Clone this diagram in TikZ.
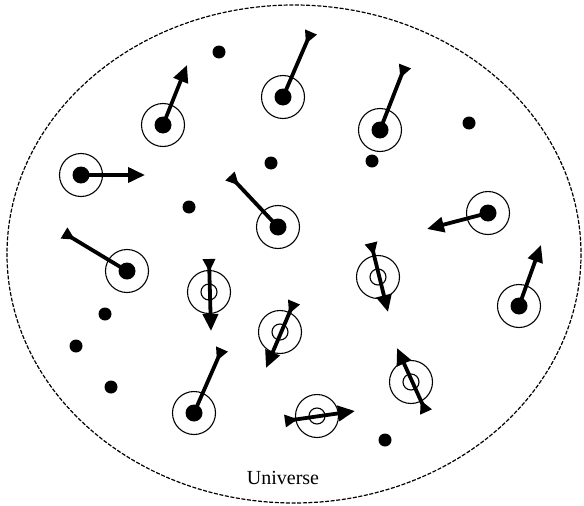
\documentclass[tikz,border=0pt]{standalone}
\usepackage{fontspec}
\setmainfont{Liberation Serif}
\usepackage{tikz}
\usetikzlibrary{arrows.meta}

\begin{document}
\begin{tikzpicture}[x=1pt,y=-1pt,
ring/.style={circle,draw,line width=1.1pt,minimum size=43pt,inner sep=0pt},
core/.style={circle,fill,minimum size=17pt,inner sep=0pt},
hole/.style={circle,draw,line width=1.1pt,minimum size=16pt,inner sep=0pt},
speck/.style={circle,fill,minimum size=13pt,inner sep=0pt},
spinout/.style={line width=3.8pt,-{Triangle[length=17pt,width=15pt]}},
spinin/.style={line width=3.8pt,{Triangle[reversed,length=13pt,width=12pt]}-},
spinflip/.style={line width=3.8pt,{Triangle[reversed,length=13pt,width=12pt]}-{Triangle[length=17pt,width=15pt]}}
]
\useasboundingbox (0,0) rectangle (584,506);
\draw[line width=1.2pt,dash pattern=on 4pt off 1.6pt] (294,254) ellipse [x radius=287,y radius=249];
% particles with a filled core
\node[ring] (a1) at (163,125) {}; \node[core] at (a1) {};
\node[ring] (a2) at (283,97) {}; \node[core] at (a2) {};
\node[ring] (a3) at (380,130) {}; \node[core] at (a3) {};
\node[ring] (a4) at (81,175) {}; \node[core] at (a4) {};
\node[ring] (a5) at (278,227) {}; \node[core] at (a5) {};
\node[ring] (a6) at (488,213) {}; \node[core] at (a6) {};
\node[ring] (a7) at (127,271) {}; \node[core] at (a7) {};
\node[ring] (a8) at (519,306) {}; \node[core] at (a8) {};
\node[ring] (a9) at (194,413) {}; \node[core] at (a9) {};
% particles with a hollow core
\node[ring] (b1) at (209,292) {}; \node[hole] at (b1) {};
\node[ring] (b2) at (378,277) {}; \node[hole] at (b2) {};
\node[ring] (b3) at (280,332) {}; \node[hole] at (b3) {};
\node[ring] (b4) at (317,416) {}; \node[hole] at (b4) {};
\node[ring] (b5) at (411,382) {}; \node[hole] at (b5) {};
% free dots
\node[speck] (d1) at (219,52) {};
\node[speck] (d2) at (469,123) {};
\node[speck] (d3) at (271,163) {};
\node[speck] (d4) at (372,161) {};
\node[speck] (d5) at (189,207) {};
\node[speck] (d6) at (105,314) {};
\node[speck] (d7) at (76,346) {};
\node[speck] (d8) at (111,387) {};
\node[speck] (d9) at (385,440) {};
% arrow ends
\coordinate (a1e) at (187,65);
\coordinate (a2e) at (311,32);
\coordinate (a3e) at (405,66);
\coordinate (a4e) at (145,175);
\coordinate (a5e) at (230,176);
\coordinate (a6e) at (427,229);
\coordinate (a7e) at (64,233);
\coordinate (a8e) at (541,245);
\coordinate (a9e) at (222,349);
\coordinate (b1s) at (209,259); \coordinate (b1e) at (211,331);
\coordinate (b2s) at (371,243); \coordinate (b2e) at (388,312);
\coordinate (b3s) at (294,302); \coordinate (b3e) at (266,368);
\coordinate (b4s) at (285,421); \coordinate (b4e) at (355,411);
\coordinate (b5s) at (426,412); \coordinate (b5e) at (397,348);
\draw[spinout] (a1.center) -- (a1e);
\draw[spinin] (a2e) -- (a2.center);
\draw[spinin] (a3e) -- (a3.center);
\draw[spinout] (a4.center) -- (a4e);
\draw[spinin] (a5e) -- (a5.center);
\draw[spinout] (a6.center) -- (a6e);
\draw[spinin] (a7e) -- (a7.center);
\draw[spinout] (a8.center) -- (a8e);
\draw[spinin] (a9e) -- (a9.center);
\draw[spinflip] (b1s) -- (b1e);
\draw[spinflip] (b2s) -- (b2e);
\draw[spinflip] (b3s) -- (b3e);
\draw[spinflip] (b4s) -- (b4e);
\draw[spinflip] (b5s) -- (b5e);
\node[font=\fontsize{20}{24}\selectfont] (label) at (283,478) {Universe};
\end{tikzpicture}
\end{document}
